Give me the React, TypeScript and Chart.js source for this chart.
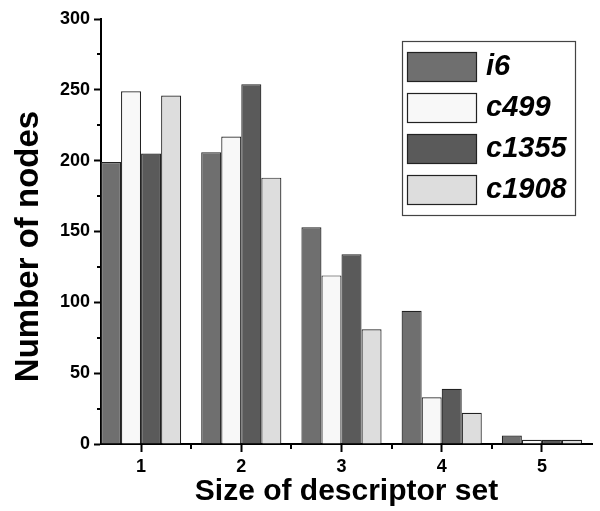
import React, { useEffect, useRef } from "react";
import { Chart, registerables } from "chart.js";

Chart.register(...registerables);

const categories = [1, 2, 3, 4, 5];
const seriesNames = ["i6", "c499", "c1355", "c1908"];
const i6Values = [199, 206, 153, 94, 6];
const c499Values = [249, 217, 119, 33, 3];
const c1355Values = [205, 254, 134, 39, 3];
const c1908Values = [246, 188, 81, 22, 3];
const yTicks = [0, 50, 100, 150, 200, 250, 300];
const yMinorTicks = [25, 75, 125, 175, 225, 275];
const xMinorTicks = [1.5, 2.5, 3.5, 4.5];
const yTitle = "Number of nodes";
const xTitle = "Size of descriptor set";

const fills = ["#6f6f6f", "#f8f8f8", "#5a5a5a", "#dddddd"];
const FONT = "'Liberation Sans', Arial, sans-serif";

const minorTicksPlugin = {
  id: "minorTicks",
  afterDraw(chart: any) {
    const ctx = chart.ctx;
    const x = chart.scales.x;
    const y = chart.scales.y;
    const area = chart.chartArea;
    ctx.save();
    ctx.strokeStyle = "#000";
    ctx.lineWidth = 2;
    ctx.beginPath();
    yMinorTicks.forEach((v) => {
      const py = Math.round(y.getPixelForValue(v));
      ctx.moveTo(area.left - 4, py);
      ctx.lineTo(area.left, py);
    });
    xMinorTicks.forEach((v) => {
      const px = Math.round(x.getPixelForValue(v));
      ctx.moveTo(px, area.bottom);
      ctx.lineTo(px, area.bottom + 5);
    });
    ctx.stroke();
    ctx.restore();
  },
};

const yTitlePlugin = {
  id: "yTitle",
  afterDraw(chart: any) {
    const ctx = chart.ctx;
    const area = chart.chartArea;
    ctx.save();
    ctx.translate(29, (area.top + area.bottom) / 2 + 15);
    ctx.rotate(-Math.PI / 2);
    ctx.fillStyle = "#000";
    ctx.font = `bold 33px ${FONT}`;
    ctx.textAlign = "center";
    ctx.textBaseline = "middle";
    ctx.fillText(yTitle, 0, 0);
    ctx.restore();
  },
};

const legendPlugin = {
  id: "boxLegend",
  afterDraw(chart: any) {
    const ctx = chart.ctx;
    const area = chart.chartArea;
    const boxW = 173;
    const boxH = 174;
    const bx = area.right - 17 - boxW;
    const by = area.top + 22;
    ctx.save();
    ctx.strokeStyle = "#444";
    ctx.lineWidth = 1.2;
    ctx.strokeRect(bx + 0.5, by + 0.5, boxW, boxH);
    chart.data.datasets.forEach((ds: any, i: number) => {
      const sx = bx + 5;
      const sy = by + 11 + i * 41;
      ctx.fillStyle = ds.backgroundColor;
      ctx.fillRect(sx, sy, 69, 29);
      ctx.strokeStyle = "#222";
      ctx.lineWidth = 1.2;
      ctx.strokeRect(sx + 0.5, sy + 0.5, 69, 29);
      ctx.fillStyle = "#000";
      ctx.font = `italic bold 29px ${FONT}`;
      ctx.textBaseline = "middle";
      ctx.textAlign = "left";
      ctx.fillText(ds.label, sx + 79, sy + 15);
    });
    ctx.restore();
  },
};

export default function App() {
  const ref = useRef<HTMLCanvasElement | null>(null);

  useEffect(() => {
    document.body.style.margin = "0";
    const canvas = ref.current;
    if (!canvas) return;
    const allValues = [i6Values, c499Values, c1355Values, c1908Values];
    const chart = new Chart(canvas, {
      type: "bar",
      data: {
        datasets: seriesNames.map((name, i) => ({
          label: name,
          data: categories.map((c, j) => ({ x: c, y: allValues[i][j] })),
          backgroundColor: fills[i],
          borderColor: "#222",
          borderWidth: 1.2,
          categoryPercentage: 0.8,
          barPercentage: 1.0,
        })),
      },
      options: {
        responsive: false,
        animation: false,
        layout: { padding: { left: 0, top: 19, right: 8, bottom: 0 } },
        plugins: {
          legend: { display: false },
          tooltip: { enabled: false },
        },
        scales: {
          x: {
            type: "linear",
            min: 0.6,
            max: 5.5,
            offset: false,
            afterBuildTicks: (scale: any) => {
              scale.ticks = categories.map((v) => ({ value: v }));
            },
            afterFit: (scale: any) => {
              scale.height = 67;
            },
            grid: {
              offset: false,
              drawOnChartArea: false,
              drawTicks: true,
              tickLength: 8,
              tickWidth: 2,
              tickColor: "#000",
            },
            border: { display: true, color: "#000", width: 2 },
            ticks: {
              color: "#000",
              padding: 4,
              font: { family: FONT, size: 18, weight: "bold" },
              callback: (v: any) => String(v),
            },
            title: {
              display: true,
              text: xTitle,
              color: "#000",
              font: { family: FONT, size: 30, weight: "bold" },
              padding: { top: 0, bottom: 1 },
            },
          },
          y: {
            min: 0,
            max: 300,
            afterBuildTicks: (scale: any) => {
              scale.ticks = yTicks.map((v) => ({ value: v }));
            },
            afterFit: (scale: any) => {
              scale.width = 101;
            },
            grid: {
              drawOnChartArea: false,
              drawTicks: true,
              tickLength: 7,
              tickWidth: 2,
              tickColor: "#000",
            },
            border: { display: true, color: "#000", width: 2 },
            ticks: {
              color: "#000",
              padding: 4,
              font: { family: FONT, size: 18, weight: "bold" },
            },
          },
        },
      },
      plugins: [minorTicksPlugin, yTitlePlugin, legendPlugin],
    } as any);
    return () => chart.destroy();
  }, []);

  return <canvas ref={ref} width={600} height={511} style={{ display: "block" }} />;
}
